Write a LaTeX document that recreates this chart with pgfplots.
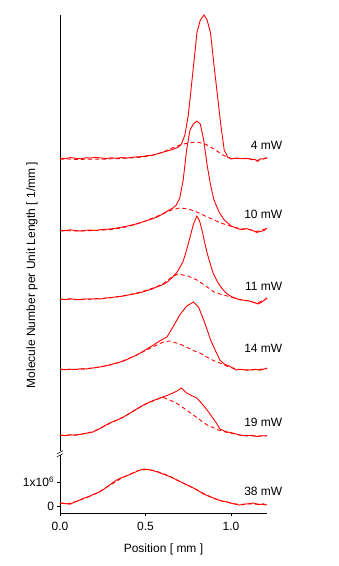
\documentclass[border=0pt]{standalone}
\usepackage{pgfplots}
\pgfplotsset{compat=1.18}
\usepackage{fontspec}
\setmainfont{Liberation Sans}
\begin{document}
\begin{tikzpicture}[font=\fontsize{12}{14}\selectfont]
\useasboundingbox (-60pt,-53pt) rectangle (279pt,513pt);
\begin{axis}[
  scale only axis, width=207pt, height=498pt,
  xmin=0, xmax=1.21, ymin=-0.29, ymax=20.46,
  axis x line=bottom, axis y line=left,
  axis line style={-, line width=0.6pt},
  xtick={0,0.5,1}, xticklabels={0.0,0.5,1.0},
  ytick={0,1}, yticklabels={0,1x10\textsuperscript{6}},
  tick align=outside, major tick length=2.5pt,
  tick style={black, line width=0.6pt},
  xticklabel style={yshift=-3pt},
  xlabel={Position [ mm ]},
  ylabel={Molecule Number per Unit Length [ 1/mm ]},
  xlabel style={at={(axis description cs:0.5,0)}, anchor=north, yshift=-27pt},
  ylabel style={at={(axis description cs:-0.135,0.478)}, anchor=center},
  clip=false,
  sol/.style={red, solid, line width=0.9pt, no marks},
  das/.style={red, line width=0.9pt, no marks, dash pattern=on 4pt off 3pt},
]
% 4 mW
\addplot[sol] coordinates {(0,14.50)(0.03,14.47)(0.06,14.52)(0.09,14.49)(0.12,14.47)(0.15,14.51)(0.18,14.50)(0.21,14.53)(0.24,14.50)(0.27,14.48)(0.30,14.51)(0.33,14.49)(0.36,14.52)(0.39,14.50)(0.42,14.53)(0.45,14.55)(0.48,14.56)(0.51,14.60)(0.54,14.62)(0.57,14.68)(0.60,14.74)(0.63,14.80)(0.66,14.86)(0.69,14.95)(0.71,15.08)(0.73,15.46)(0.75,16.29)(0.77,17.63)(0.79,19.00)(0.80,19.71)(0.82,20.25)(0.842,20.46)(0.86,20.25)(0.88,19.71)(0.90,18.38)(0.92,17.13)(0.94,15.88)(0.96,14.83)(0.98,14.54)(1.00,14.46)(1.03,14.50)(1.06,14.47)(1.09,14.49)(1.12,14.45)(1.14,14.44)(1.155,14.36)(1.17,14.47)(1.19,14.46)(1.21,14.52)};
\addplot[das] coordinates {(0,14.45)(0.05,14.46)(0.10,14.44)(0.15,14.45)(0.20,14.46)(0.25,14.45)(0.30,14.47)(0.35,14.48)(0.40,14.50)(0.45,14.52)(0.50,14.56)(0.55,14.63)(0.60,14.74)(0.65,14.90)(0.70,15.04)(0.75,15.13)(0.80,15.17)(0.85,15.08)(0.90,14.88)(0.95,14.63)(1.00,14.48)(1.05,14.49)(1.10,14.47)(1.15,14.40)(1.21,14.50)};
% 10 mW
\addplot[sol] coordinates {(0,11.50)(0.03,11.47)(0.06,11.51)(0.09,11.48)(0.12,11.46)(0.15,11.49)(0.18,11.50)(0.21,11.48)(0.24,11.52)(0.27,11.53)(0.30,11.55)(0.33,11.58)(0.36,11.62)(0.39,11.66)(0.42,11.71)(0.45,11.76)(0.48,11.83)(0.51,11.90)(0.54,11.97)(0.57,12.05)(0.60,12.17)(0.63,12.30)(0.66,12.42)(0.68,12.54)(0.70,12.83)(0.72,13.58)(0.74,14.83)(0.76,15.67)(0.78,15.92)(0.80,16.04)(0.82,15.92)(0.84,15.25)(0.86,14.21)(0.88,13.38)(0.90,12.75)(0.93,12.25)(0.96,11.92)(1.00,11.67)(1.03,11.58)(1.06,11.52)(1.09,11.56)(1.12,11.50)(1.15,11.40)(1.17,11.44)(1.19,11.47)(1.21,11.58)};
\addplot[das] coordinates {(0,11.46)(0.05,11.47)(0.10,11.46)(0.15,11.47)(0.20,11.48)(0.25,11.50)(0.30,11.52)(0.35,11.58)(0.40,11.65)(0.45,11.76)(0.50,11.88)(0.55,12.02)(0.60,12.17)(0.65,12.33)(0.70,12.42)(0.75,12.38)(0.80,12.25)(0.85,12.08)(0.90,11.92)(0.95,11.77)(1.00,11.66)(1.05,11.56)(1.10,11.53)(1.15,11.44)(1.21,11.56)};
% 11 mW
\addplot[sol] coordinates {(0,8.63)(0.03,8.60)(0.06,8.64)(0.09,8.61)(0.12,8.60)(0.15,8.63)(0.18,8.62)(0.21,8.64)(0.24,8.63)(0.27,8.67)(0.30,8.69)(0.33,8.72)(0.36,8.74)(0.39,8.78)(0.42,8.82)(0.45,8.86)(0.48,8.91)(0.51,8.98)(0.54,9.05)(0.57,9.14)(0.60,9.22)(0.63,9.35)(0.66,9.55)(0.69,9.80)(0.72,10.20)(0.74,10.67)(0.76,11.20)(0.78,11.75)(0.80,12.08)(0.815,11.90)(0.83,11.50)(0.845,11.00)(0.86,10.54)(0.88,10.05)(0.895,9.71)(0.92,9.35)(0.945,9.08)(0.97,8.88)(1.00,8.73)(1.04,8.62)(1.08,8.57)(1.11,8.54)(1.14,8.47)(1.16,8.42)(1.18,8.50)(1.21,8.67)};
\addplot[das] coordinates {(0,8.60)(0.05,8.62)(0.10,8.60)(0.15,8.62)(0.20,8.63)(0.25,8.65)(0.30,8.68)(0.35,8.73)(0.40,8.80)(0.45,8.88)(0.50,8.98)(0.55,9.10)(0.60,9.25)(0.65,9.52)(0.69,9.67)(0.75,9.58)(0.80,9.42)(0.85,9.18)(0.90,8.92)(0.95,8.80)(1.00,8.71)(1.05,8.60)(1.10,8.55)(1.15,8.44)(1.21,8.65)};
% 14 mW
\addplot[sol] coordinates {(0,5.71)(0.03,5.68)(0.06,5.70)(0.09,5.69)(0.12,5.72)(0.15,5.71)(0.18,5.74)(0.21,5.77)(0.24,5.80)(0.27,5.85)(0.30,5.90)(0.33,5.96)(0.36,6.02)(0.39,6.10)(0.42,6.20)(0.45,6.30)(0.48,6.42)(0.51,6.55)(0.54,6.68)(0.57,6.82)(0.60,6.95)(0.625,7.04)(0.66,7.46)(0.70,7.96)(0.74,8.33)(0.78,8.50)(0.81,8.29)(0.84,7.75)(0.86,7.35)(0.88,6.92)(0.91,6.45)(0.935,6.08)(0.96,5.92)(0.99,5.83)(1.03,5.67)(1.06,5.70)(1.09,5.66)(1.11,5.67)(1.14,5.70)(1.17,5.66)(1.21,5.75)};
\addplot[das] coordinates {(0,5.68)(0.05,5.70)(0.10,5.69)(0.15,5.72)(0.20,5.76)(0.25,5.82)(0.30,5.89)(0.35,5.99)(0.40,6.14)(0.45,6.30)(0.50,6.48)(0.55,6.66)(0.60,6.82)(0.64,6.88)(0.70,6.75)(0.74,6.62)(0.78,6.48)(0.82,6.37)(0.86,6.20)(0.90,6.05)(0.935,5.96)(0.99,5.78)(1.05,5.69)(1.10,5.67)(1.15,5.68)(1.21,5.73)};
% 19 mW
\addplot[sol] coordinates {(0,2.96)(0.03,2.93)(0.06,2.97)(0.09,2.95)(0.12,2.99)(0.15,3.03)(0.19,3.08)(0.22,3.18)(0.25,3.30)(0.28,3.42)(0.31,3.52)(0.34,3.60)(0.37,3.70)(0.39,3.79)(0.42,3.92)(0.45,4.05)(0.48,4.18)(0.51,4.29)(0.54,4.38)(0.57,4.46)(0.60,4.54)(0.63,4.62)(0.66,4.71)(0.69,4.82)(0.71,4.92)(0.74,4.71)(0.77,4.60)(0.80,4.50)(0.83,4.26)(0.86,4.00)(0.885,3.75)(0.91,3.50)(0.935,3.21)(0.97,3.10)(1.01,3.04)(1.05,2.96)(1.09,2.92)(1.12,2.95)(1.15,2.90)(1.18,2.93)(1.21,2.92)};
\addplot[das] coordinates {(0,2.94)(0.05,2.96)(0.10,2.97)(0.15,3.02)(0.20,3.12)(0.25,3.29)(0.30,3.48)(0.35,3.64)(0.40,3.83)(0.45,4.05)(0.50,4.24)(0.55,4.40)(0.60,4.54)(0.64,4.42)(0.68,4.29)(0.73,4.05)(0.78,3.79)(0.82,3.58)(0.86,3.38)(0.925,3.17)(0.97,3.08)(1.01,3.02)(1.05,2.96)(1.10,2.93)(1.15,2.91)(1.21,2.93)};
% 38 mW
\addplot[sol] coordinates {(0,0.13)(0.03,0.10)(0.06,0.08)(0.09,0.18)(0.12,0.26)(0.14,0.33)(0.17,0.40)(0.20,0.50)(0.23,0.58)(0.26,0.72)(0.29,0.88)(0.31,0.98)(0.33,1.08)(0.36,1.18)(0.39,1.26)(0.43,1.38)(0.46,1.48)(0.49,1.54)(0.52,1.52)(0.55,1.46)(0.57,1.42)(0.60,1.34)(0.63,1.26)(0.66,1.17)(0.69,1.06)(0.72,0.96)(0.75,0.85)(0.78,0.75)(0.81,0.63)(0.84,0.50)(0.88,0.38)(0.91,0.30)(0.94,0.22)(0.98,0.17)(1.01,0.10)(1.05,0.04)(1.08,0.08)(1.11,0.10)(1.13,0.13)(1.16,0.06)(1.19,0.09)(1.21,0.04)};
\addplot[das] coordinates {(0,0.12)(0.05,0.10)(0.10,0.20)(0.15,0.34)(0.20,0.48)(0.25,0.68)(0.30,0.90)(0.35,1.12)(0.40,1.30)(0.45,1.46)(0.50,1.52)(0.55,1.48)(0.60,1.36)(0.65,1.22)(0.70,1.02)(0.75,0.86)(0.80,0.68)(0.85,0.48)(0.90,0.32)(0.95,0.20)(1.00,0.12)(1.05,0.06)(1.10,0.09)(1.15,0.08)(1.21,0.06)};
% labels
\node[anchor=east] at (axis cs:1.32,15.04) {4 mW};
\node[anchor=east] at (axis cs:1.32,12.17) {10 mW};
\node[anchor=east] at (axis cs:1.32,9.17) {11 mW};
\node[anchor=east] at (axis cs:1.32,6.58) {14 mW};
\node[anchor=east] at (axis cs:1.32,3.50) {19 mW};
\node[anchor=east] at (axis cs:1.32,0.62) {38 mW};
% axis break
\fill[white] ([xshift=-1pt,yshift=-2pt]axis cs:0,2.2) rectangle ([xshift=1pt,yshift=2pt]axis cs:0,2.2);
\draw[black, line width=0.6pt] ([xshift=-3pt,yshift=-0.5pt]axis cs:0,2.2) -- ++(6pt,3pt);
\draw[black, line width=0.6pt] ([xshift=-3pt,yshift=-3.5pt]axis cs:0,2.2) -- ++(6pt,3pt);
\end{axis}
\end{tikzpicture}
\end{document}
